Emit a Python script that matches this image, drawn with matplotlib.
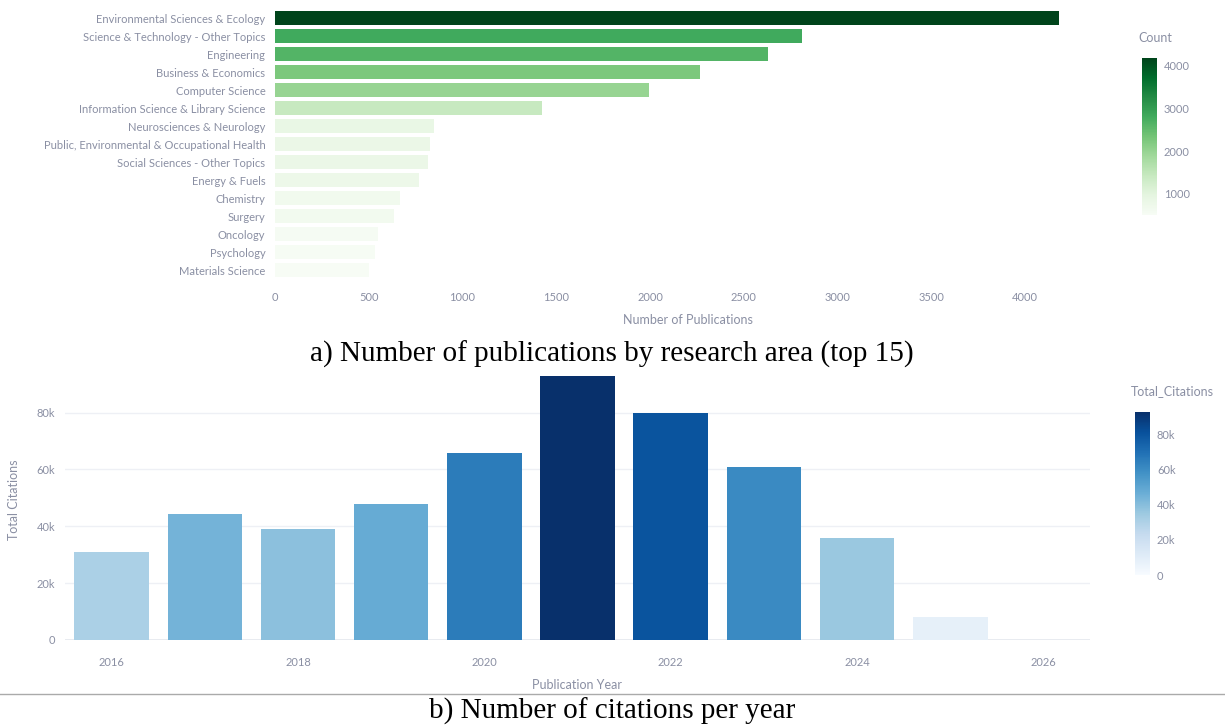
import matplotlib
matplotlib.use("Agg")
import matplotlib.pyplot as plt
import numpy as np
from matplotlib import cm, colors
from matplotlib.ticker import FuncFormatter

areas = ["Environmental Sciences & Ecology", "Science & Technology - Other Topics",
         "Engineering", "Business & Economics", "Computer Science",
         "Information Science & Library Science", "Neurosciences & Neurology",
         "Public, Environmental & Occupational Health", "Social Sciences - Other Topics",
         "Energy & Fuels", "Chemistry", "Surgery", "Oncology", "Psychology",
         "Materials Science"]
counts = [4181, 2812, 2631, 2264, 1992, 1422, 847, 826, 815, 767, 666, 634, 549, 533, 501]

years = [2016, 2017, 2018, 2019, 2020, 2021, 2022, 2023, 2024, 2025, 2026]
citations = [31000, 44400, 39100, 47900, 65900, 93000, 80000, 61000, 35900, 8100, 100]

W, H = 1225, 727
fig = plt.figure(figsize=(W / 100, H / 100), dpi=100)
fig.patch.set_facecolor("white")

TXT = "#8a8fa3"
FONT = "Lato"
plt.rcParams["font.family"] = [FONT, "DejaVu Sans"]

def ax_px(l, t, r, b):
    return fig.add_axes([l / W, 1 - b / H, (r - l) / W, (b - t) / H])

# ---------- a) horizontal bars ----------
ax1 = ax_px(275, 9, 1100, 279)
norm1 = colors.Normalize(vmin=min(counts), vmax=max(counts))
cmap1 = plt.get_cmap("Greens")
ypos = np.arange(len(areas))
ax1.barh(ypos, counts, height=0.8, color=cmap1(norm1(np.array(counts))))
ax1.set_yticks(ypos)
ax1.set_yticklabels(areas)
ax1.set_ylim(len(areas) - 0.5, -0.5)
ax1.set_xlim(0, 4400)
ax1.set_xticks(np.arange(0, 4001, 500))
ax1.tick_params(axis="both", length=0, labelsize=8, labelcolor=TXT)
ax1.tick_params(axis="y", pad=7)
ax1.tick_params(axis="x", pad=9)
for s in ax1.spines.values():
    s.set_visible(False)
ax1.set_xlabel("Number of Publications", fontsize=9, color=TXT, labelpad=8)

cax1 = ax_px(1142, 58, 1157, 215)
cb1 = fig.colorbar(cm.ScalarMappable(norm=norm1, cmap=cmap1), cax=cax1)
cb1.set_ticks([1000, 2000, 3000, 4000])
cb1.outline.set_visible(False)
cax1.tick_params(length=0, labelsize=8, labelcolor=TXT, pad=5)
fig.text(1138 / W, 1 - 38 / H, "Count", fontsize=9, color=TXT, ha="left", va="center")

fig.text(612 / W, 1 - 354 / H, "a) Number of publications by research area (top 15)",
         fontsize=21, family="Liberation Serif", ha="center", va="center", color="black")

# ---------- b) vertical bars ----------
ax2 = ax_px(65, 370, 1090, 640)
norm2 = colors.Normalize(vmin=0, vmax=max(citations))
cmap2 = plt.get_cmap("Blues")
ax2.bar(years, citations, width=0.8, color=cmap2(norm2(np.array(citations))), zorder=3)
ax2.set_xlim(2015.5, 2026.5)
ax2.set_ylim(0, 95000)
ax2.set_xticks([2016, 2018, 2020, 2022, 2024, 2026])
ax2.set_yticks([0, 20000, 40000, 60000, 80000])
ax2.yaxis.set_major_formatter(FuncFormatter(lambda v, p: "0" if v == 0 else f"{int(v/1000)}k"))
ax2.grid(axis="y", color="#eef0f5", linewidth=1, zorder=0)
ax2.axhline(0, color="#e3e6ee", linewidth=1.2, zorder=1)
ax2.tick_params(axis="both", length=0, labelsize=8, labelcolor=TXT)
ax2.tick_params(axis="x", pad=12)
ax2.tick_params(axis="y", pad=7)
for s in ax2.spines.values():
    s.set_visible(False)
ax2.set_xlabel("Publication Year", fontsize=9, color=TXT, labelpad=8)
ax2.set_ylabel("Total Citations", fontsize=9, color=TXT, labelpad=10)
ax2.yaxis.set_label_coords(-0.044, 0.52)

cax2 = ax_px(1135, 412, 1150, 575)
cb2 = fig.colorbar(cm.ScalarMappable(norm=norm2, cmap=cmap2), cax=cax2)
cb2.set_ticks([0, 20000, 40000, 60000, 80000])
cb2.ax.yaxis.set_major_formatter(FuncFormatter(lambda v, p: "0" if v == 0 else f"{int(v/1000)}k"))
cb2.outline.set_visible(False)
cax2.tick_params(length=0, labelsize=8, labelcolor=TXT, pad=5)
fig.text(1131 / W, 1 - 391 / H, "Total_Citations", fontsize=9, color=TXT, ha="left", va="center")

# separator line
fig.add_artist(plt.Line2D([0, 1], [1 - 694 / H, 1 - 694 / H], color="#aaaaaa", linewidth=1,
                          transform=fig.transFigure))

fig.text(612 / W, 1 - 711 / H, "b) Number of citations per year",
         fontsize=21, family="Liberation Serif", ha="center", va="center", color="black")

fig.savefig("out.png", dpi=100, facecolor="white")
